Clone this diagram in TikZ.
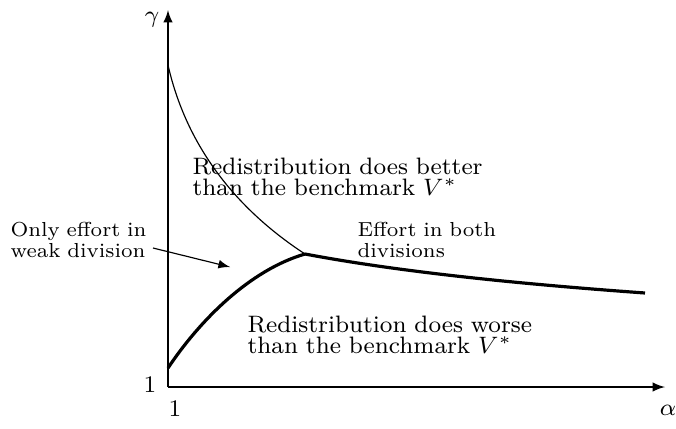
\documentclass[tikz,border=0pt]{standalone}
\usepackage{fix-cm}
\usepackage{amsmath, amssymb}
\usetikzlibrary{calc}
\newcommand{\lblfont}{\fontsize{8.2}{7.3}\selectfont}
\newcommand{\notefont}{\scriptsize\setlength{\baselineskip}{7pt}}

\begin{document}
\begin{tikzpicture}[x=0.345pt,y=-0.345pt,
		lbl/.style={inner sep=0pt,anchor=north west,font=\lblfont},
		note/.style={inner sep=0pt,anchor=north west,font=\notefont}]
			\useasboundingbox (0,0) rectangle (676,428);
			\coordinate (O) at (168,387);
			\coordinate (Y) at (168,10);
			\coordinate (X) at (665,387);
			\coordinate (T) at (168,65);
			\coordinate (B) at (168,368);
			\coordinate (K) at (305,254);
			\coordinate (E) at (645,293);

			\draw[-latex,line width=0.5pt] (O)--(Y);
			\draw[-latex,line width=0.5pt] (O)--(X);
			\draw[line width=0.4pt] (T) .. controls (185,140) and (230,205) .. (K);
			\draw[line width=1.1pt] (B) .. controls (200,320) and (250,270) .. (K);
			\draw[line width=1.1pt] (K) .. controls (400,272) and (520,284) .. (E);

			\node[font=\lblfont] (gam) at (152,20) {$\gamma$};
			\node[font=\lblfont] (alp) at (668,410) {$\alpha$};
			\node[font=\lblfont] (oney) at (150,385) {$1$};
			\node[font=\lblfont] (onex) at (175,409) {$1$};

			\node[lbl,text width=100.4pt] (better) at (192,157) {Redistribution does better\linebreak than the benchmark $V^*$};
			\node[lbl,text width=100pt] (worse) at (247,315) {Redistribution does worse\linebreak than the benchmark $V^*$};
			\node[note,text width=49.3pt] (weak) at (10,222) {Only effort in\linebreak weak division};
			\node[note,text width=55pt,align=left] (both) at (357,222) {Effort in both\\ divisions};
			\coordinate (W) at (230,267);
			\draw[-latex,line width=0.4pt] (153,248) -- (W);
		\end{tikzpicture}
\end{document}
